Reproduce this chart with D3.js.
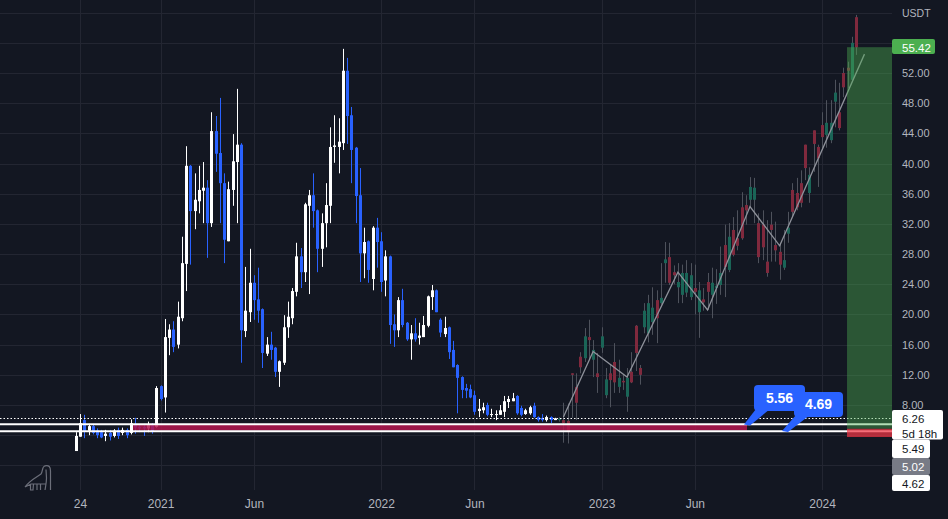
<!DOCTYPE html>
<html>
<head>
<meta charset="utf-8">
<script src="https://cdn.jsdelivr.net/npm/d3@7"></script>
<style>
	html, body { margin: 0; padding: 0; background: #131722; }
	svg { display: block; }
	text { font-family: "Liberation Sans", Arial, sans-serif; }
</style>
</head>
<body>
<div class="chart"></div>
<script>
// weekly candles
var opens = [
	1.9,3.8,6.0,4.6,5.2,4.6,4.4,3.9,4.3,3.9,
	4.7,4.3,4.7,4.3,5.5,5.1,5.1,4.9,5.3,5.1,
	10.5,9.0,16.9,18.0,16.0,19.5,26.7,39.7,33.7,35.0,
	36.4,36.8,32.1,44.3,41.4,37.4,29.7,36.5,40.2,42.5,
	17.8,20.3,24.2,22.0,20.7,14.8,16.0,15.6,12.4,13.6,
	18.3,19.5,23.0,27.7,25.6,34.4,35.8,33.8,28.7,32.1,
	34.4,42.2,42.2,42.7,52.3,46.4,42.1,35.8,28.1,29.7,
	24.7,31.5,29.7,24.5,27.7,18.7,17.9,21.9,18.9,16.7,
	17.5,16.9,17.0,18.5,22.3,23.2,19.3,17.4,18.3,15.3,
	13.3,11.7,10.25,10.1,9.3,7.2,7.3,8.0,6.7,6.7,
	6.7,7.1,8.4,8.5,9.2,7.6,6.8,6.9,7.9,6.4,
	6.3,6.0,6.4,6.0,6.2,5.6,4.4,12.0,8.3,13.0,
	17.1,16.6,15.3,11.7,17.1,11.4,11.3,11.0,11.6,11.0,
	11.6,11.0,14.9,12.0,20.5,21.5,20.9,19.5,22.2,27.3,
	24.2,25.2,24.3,25.5,25.5,25.2,23.0,23.2,21.6,23.0,
	24.2,23.8,25.5,26.3,30.3,27.9,29.1,30.1,33.8,36.9,
	36.8,27.6,28.9,25.5,31.2,28.5,26.6,27.2,31.5,33.6,
	34.2,34.8,39.4,38.5,42.6,40.7,43.5,45.4,45.4,49.4,
	44.7,50.1,52.3,56.0,55.4
];
var highs = [
	4.4,6.8,6.7,5.5,5.5,4.9,4.7,4.7,4.7,4.8,
	5.0,5.0,4.9,6.1,6.3,5.4,5.5,5.8,5.6,10.5,
	10.6,19.4,18.7,19.1,21.7,30.3,42.3,39.8,38.7,39.7,
	40.2,37.8,46.8,46.3,48.7,38.7,37.6,43.9,49.9,42.7,
	26.3,28.7,25.2,26.2,20.8,17.0,17.7,15.7,13.9,19.9,
	21.7,23.5,29.5,28.8,34.8,36.5,38.7,33.9,33.4,37.4,
	44.8,46.4,46.0,55.2,54.0,47.5,42.2,39.4,31.5,29.8,
	31.7,32.8,30.9,28.5,27.8,20.0,22.3,23.4,19.0,18.6,
	19.5,18.9,19.8,22.5,23.9,23.3,19.5,19.7,18.4,16.5,
	13.4,11.8,10.8,10.7,9.9,8.8,8.3,8.3,7.5,7.3,
	8.0,9.2,9.2,9.6,9.3,7.9,7.5,7.9,8.3,6.5,
	6.8,6.6,6.5,6.3,6.4,8.3,8.2,12.2,12.2,15.0,
	18.2,19.3,16.6,14.9,18.3,12.9,13.3,16.2,14.0,12.0,
	12.9,15.0,18.6,13.3,21.5,22.6,23.6,23.2,26.8,29.6,
	29.5,26.5,26.8,26.6,27.2,26.8,26.6,24.3,23.5,25.5,
	26.2,26.0,29.0,31.9,32.1,32.9,33.8,36.2,35.8,38.2,
	38.1,33.4,33.8,32.5,33.6,32.3,29.5,31.2,33.6,37.4,
	38.1,39.1,42.5,39.5,44.4,42.5,46.8,48.4,48.4,51.1,
	50.7,52.7,53.5,56.8,59.7
];
var lows = [
	1.9,3.8,3.6,4.0,4.1,3.6,3.6,3.2,3.3,3.7,
	3.5,4.0,3.6,4.1,4.2,4.4,3.9,4.4,4.2,5.0,
	8.6,7.0,14.6,15.0,15.5,19.1,23.1,26.6,31.3,33.4,
	32.1,27.5,31.6,38.9,32.1,26.8,29.7,34.4,32.1,13.6,
	17.0,19.0,19.3,18.9,12.9,14.5,14.0,11.7,10.4,13.3,
	16.9,18.7,22.4,23.5,24.3,22.7,31.5,25.6,26.3,28.9,
	32.1,40.1,38.7,41.8,42.6,37.4,32.1,24.3,24.8,24.2,
	23.2,26.2,23.0,22.4,16.1,15.7,17.0,18.3,16.5,14.0,
	16.4,16.0,17.0,18.3,20.6,20.3,17.0,17.0,14.1,13.0,
	6.9,8.9,8.9,8.9,6.7,6.4,6.9,6.5,6.4,6.0,
	6.7,6.4,7.6,8.5,6.7,6.5,6.7,6.7,6.3,5.8,
	5.8,5.8,5.6,6.0,5.8,3.0,2.9,6.3,6.0,12.2,
	13.7,14.0,11.7,9.6,14.9,8.9,7.7,9.6,9.6,10.0,
	7.1,10.9,12.5,10.7,17.5,16.3,17.3,16.2,21.3,24.2,
	23.9,24.0,21.5,21.5,22.3,21.9,20.0,16.9,20.5,20.6,
	19.5,21.4,22.6,22.3,25.6,27.7,28.5,29.9,31.9,34.2,
	32.1,26.8,27.2,25.0,27.0,27.0,24.6,25.9,29.5,32.9,
	33.8,34.2,37.8,34.8,38.9,36.9,41.8,42.1,42.7,44.8,
	44.4,48.8,50.0,51.1,54.4
];
var closes = [
	3.9,5.6,4.55,5.2,4.3,4.0,3.7,4.2,3.8,4.6,
	3.9,4.7,4.0,5.6,5.0,4.9,4.9,5.4,4.5,10.25,
	8.8,17.0,18.0,15.7,19.7,26.8,39.7,33.7,35.2,36.5,
	36.8,32.1,44.3,41.3,37.4,29.9,36.6,40.3,42.5,17.9,
	20.5,24.2,21.9,20.5,14.9,16.0,15.3,12.4,13.8,18.3,
	19.7,23.1,27.7,25.6,34.6,35.8,33.7,28.7,32.1,34.5,
	42.2,42.4,42.9,52.3,46.3,41.8,35.7,28.1,29.6,25.9,
	31.5,29.6,24.3,27.7,18.6,17.9,21.9,18.6,16.7,17.5,
	16.7,17.2,18.6,22.4,23.2,20.3,17.6,18.2,15.0,13.0,
	11.6,10.0,9.9,9.0,7.1,7.5,7.7,6.7,6.8,6.8,
	7.3,8.5,8.8,8.9,6.9,6.7,7.3,7.7,6.4,6.0,
	6.0,6.4,6.0,6.2,6.0,6.0,5.9,12.2,10.4,14.4,
	14.2,17.0,14.0,12.2,15.6,9.3,12.2,13.7,10.4,11.2,
	9.1,12.4,18.5,12.9,18.3,17.5,19.0,21.9,21.5,26.8,
	27.6,25.6,23.6,22.6,22.9,22.3,23.5,20.3,22.0,24.3,
	22.6,23.5,23.9,29.2,25.9,31.2,30.1,34.2,34.5,35.2,
	35.2,32.1,31.9,27.0,31.9,29.2,28.3,26.2,30.7,36.5,
	36.1,37.4,42.5,36.1,44.4,42.2,45.1,43.8,43.1,48.2,
	46.8,52.0,52.7,51.1,59.4
];

// x axis labels, candle index of each
var timeTicks = [1, 20, 42, 72, 94, 124, 146, 176];
var timeLabels = ["24", "2021", "Jun", "2022", "Jun", "2023", "Jun", "2024"];

var priceLabels = [8, 12, 16, 20, 24, 28, 32, 36, 40, 44, 48, 52, 56];
var gridPrices = [0, 4, 8, 12, 16, 20, 24, 28, 32, 36, 40, 44, 48, 52, 56, 60];

// the zigzag drawn over the later candles
var zigIndex = [115, 122, 130, 142, 149, 159, 166, 186];
var zigPrice = [6.4, 15.1, 11.7, 25.6, 20.6, 34.3, 29.1, 54.5];

var dottedLevel = 6.26;
var upperLevel = 5.49;
var lowerLevel = 4.62;
var zoneTop = 55.42;
var zoneEntry = 4.85;
var zoneBottom = 3.76;
var zoneStart = 182;

// first candle drawn in the dim colours
var dimFrom = 114;

var width = 948, height = 519, plotRight = 892;

var x = d3.scaleLinear().domain([0, closes.length - 1]).range([75.8, 856]);
var y = d3.scaleLinear().domain([8, 52]).range([405, 73]);

var svg = d3.select(".chart").append("svg")
	.attr("width", width)
	.attr("height", height);

// grid
svg.append("g").selectAll("line")
	.data(gridPrices)
	.enter().append("line")
	.attr("x1", 0)
	.attr("x2", plotRight)
	.attr("y1", function(d) { return Math.round(y(d)) + 0.5; })
	.attr("y2", function(d) { return Math.round(y(d)) + 0.5; })
	.attr("stroke", "#232632");

svg.append("g").selectAll("line")
	.data(timeTicks)
	.enter().append("line")
	.attr("x1", function(d) { return Math.round(x(d)) + 0.5; })
	.attr("x2", function(d) { return Math.round(x(d)) + 0.5; })
	.attr("y1", 0)
	.attr("y2", 490)
	.attr("stroke", "#232632");

// candles
var candle = svg.append("g").selectAll("g")
	.data(d3.range(closes.length))
	.enter().append("g");

function bodyColor(i) {
	var up = closes[i] >= opens[i];
	if (i < dimFrom) return up ? "#ffffff" : "#2962ff";
	return up ? "#80293d" : "#1a6557";
}

candle.append("line")
	.attr("x1", function(i) { return Math.round(x(i)) + 0.5; })
	.attr("x2", function(i) { return Math.round(x(i)) + 0.5; })
	.attr("y1", function(i) { return y(highs[i]); })
	.attr("y2", function(i) { return y(lows[i]); })
	.attr("stroke", function(i) { return i < dimFrom ? bodyColor(i) : "#4e525c"; });

candle.append("rect")
	.attr("x", function(i) { return Math.round(x(i)) - 1; })
	.attr("width", 3)
	.attr("y", function(i) { return y(Math.max(opens[i], closes[i])); })
	.attr("height", function(i) { return Math.max(1, Math.abs(y(opens[i]) - y(closes[i]))); })
	.attr("fill", bodyColor);

// band between the two levels
svg.append("rect")
	.attr("x", x(13.5))
	.attr("width", 747 - x(13.5))
	.attr("y", y(upperLevel))
	.attr("height", y(lowerLevel) - y(upperLevel))
	.attr("fill", "#b4164f")
	.attr("opacity", 0.85);

// dotted line and the two white levels
svg.append("line")
	.attr("x1", 0)
	.attr("x2", plotRight)
	.attr("y1", Math.round(y(dottedLevel)) + 0.5)
	.attr("y2", Math.round(y(dottedLevel)) + 0.5)
	.attr("stroke", "#ffffff")
	.attr("stroke-dasharray", "1.5,2");

svg.append("g").selectAll("line")
	.data([upperLevel, lowerLevel])
	.enter().append("line")
	.attr("x1", 0)
	.attr("x2", plotRight)
	.attr("y1", function(d) { return Math.round(y(d)) + 0.3; })
	.attr("y2", function(d) { return Math.round(y(d)) + 0.3; })
	.attr("stroke", "#ffffff")
	.attr("stroke-width", 2);

// zigzag
var zigLine = d3.line()
	.x(function(d) { return x(d); })
	.y(function(d, i) { return y(zigPrice[i]); });

svg.append("path")
	.attr("d", zigLine(zigIndex))
	.attr("fill", "none")
	.attr("stroke", "#8f929b")
	.attr("stroke-width", 1.3);

// long position zone
var zoneLeft = x(zoneStart) - 0.5;
svg.append("rect")
	.attr("x", zoneLeft)
	.attr("width", plotRight - zoneLeft)
	.attr("y", y(zoneTop))
	.attr("height", y(zoneEntry) - y(zoneTop))
	.attr("fill", "#4caf50")
	.attr("opacity", 0.42);

svg.append("rect")
	.attr("x", zoneLeft)
	.attr("width", plotRight - zoneLeft)
	.attr("y", y(zoneEntry))
	.attr("height", y(zoneBottom) - y(zoneEntry))
	.attr("fill", "#f23645")
	.attr("opacity", 0.72);

// callouts: box, then the tail to the level
function callout(label, level, left, right, top, bottom, tailX, textX, textY) {
	var g = svg.append("g");
	g.append("path")
		.attr("d", d3.line()([[left + 2, bottom - 2], [left + 16, bottom - 2], [tailX + 4, y(level) + 2], [tailX - 2, y(level) + 1]]))
		.attr("fill", "#2962ff");
	g.append("rect")
		.attr("x", left)
		.attr("y", top)
		.attr("width", right - left)
		.attr("height", bottom - top)
		.attr("rx", 4)
		.attr("fill", "#2962ff");
	g.append("text")
		.attr("x", textX)
		.attr("y", textY)
		.attr("text-anchor", "middle")
		.attr("dominant-baseline", "central")
		.attr("fill", "#ffffff")
		.attr("font-size", 14)
		.attr("font-weight", "bold")
		.text(label);
}

callout("5.56", 5.56, 754, 805, 385, 411, 746, 779.5, 397.5);
callout("4.69", 4.69, 794, 843, 392, 417, 784, 818.5, 403.5);

// logo
svg.append("path")
	.attr("d", "M25 487 C30 480 37 477 41 474 C43 472 41.5 467 45 465.8 C49 464.8 50.5 467 50.5 471 L50.5 490 M46 469.5 L46.5 478 C46.5 482 46 484 45 490 M25 487 L31 484 L46 484 M30.5 484 L30.5 490 L33 490 L33.5 484 M37 484 L37 490 M40.5 484 L40.5 490")
	.attr("fill", "none")
	.attr("stroke", "#6c6f7a")
	.attr("stroke-width", 1.2);

// axes
var yAxis = d3.axisRight(y)
	.tickValues(priceLabels)
	.tickSize(0)
	.tickPadding(10)
	.tickFormat(d3.format(".2f"));

var axisY = svg.append("g")
	.attr("transform", "translate(" + plotRight + ",0)")
	.call(yAxis);
axisY.select(".domain").remove();
axisY.selectAll("text")
	.attr("fill", "#b2b5be")
	.attr("font-family", '"Liberation Sans", Arial, sans-serif')
	.attr("font-size", 11);

var xAxis = d3.axisBottom(x)
	.tickValues(timeTicks)
	.tickSize(0)
	.tickPadding(0)
	.tickFormat(function(d, i) { return timeLabels[i]; });

var axisX = svg.append("g")
	.attr("transform", "translate(0,499)")
	.call(xAxis);
axisX.select(".domain").remove();
axisX.selectAll("text")
	.attr("fill", "#b2b5be")
	.attr("font-family", '"Liberation Sans", Arial, sans-serif')
	.attr("font-size", 12);

svg.append("text")
	.attr("x", 902)
	.attr("y", 17)
	.attr("fill", "#b2b5be")
	.attr("font-size", 10.5)
	.text("USDT");

// price labels on the axis
function axisBox(top, bottom, right, fill, color, lines) {
	svg.append("rect")
		.attr("x", plotRight)
		.attr("y", top)
		.attr("width", right - plotRight)
		.attr("height", bottom - top)
		.attr("rx", 2)
		.attr("fill", fill);
	lines.forEach(function(line, i) {
		svg.append("text")
			.attr("x", 902)
			.attr("y", top + 13 + i * 15)
			.attr("fill", color)
			.attr("font-size", 11.5)
			.text(line);
	});
}

axisBox(39, 54, 935, "#4caf50", "#ffffff", ["55.42"]);
axisBox(410, 439.5, 943, "#ffffff", "#131722", ["6.26", "5d 18h"]);
axisBox(439.5, 458, 930, "#ffffff", "#131722", ["5.49"]);
axisBox(458, 475, 930, "#787b86", "#ffffff", ["5.02"]);
axisBox(475, 491, 930, "#ffffff", "#131722", ["4.62"]);
</script>
</body>
</html>
